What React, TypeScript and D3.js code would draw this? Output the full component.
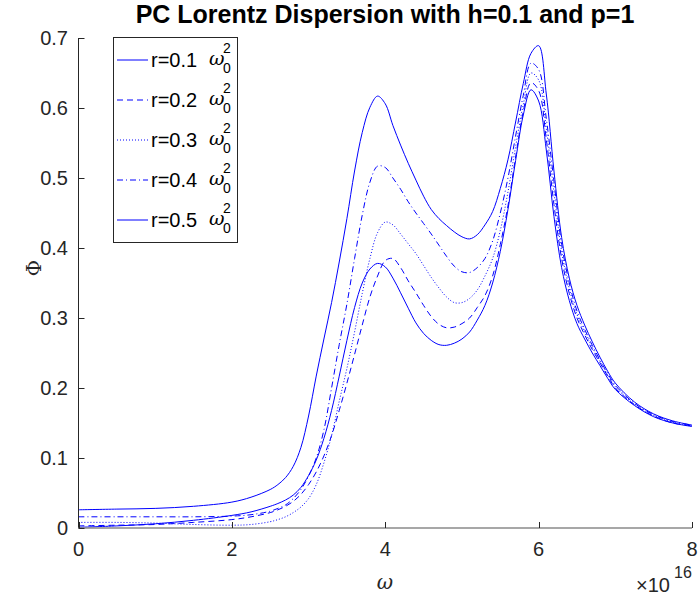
import React from "react";
import * as d3 from "d3";

// omega in units of 1e16
const omega = [0, 0.5, 1, 1.5, 2, 2.25, 2.5, 2.6, 2.7, 2.8, 2.9, 3, 3.1, 3.2, 3.3, 3.4, 3.5, 3.6, 3.7, 3.8, 3.9, 4, 4.1, 4.2, 4.3, 4.4, 4.5, 4.6, 4.7, 4.8, 4.9, 5, 5.1, 5.2, 5.3, 5.4, 5.5, 5.6, 5.7, 5.8, 5.9, 6, 6.1, 6.2, 6.3, 6.4, 6.5, 6.6, 6.7, 6.8, 6.9, 7, 7.25, 7.5, 7.75, 8];

const phiR01 = [0.001, 0.003, 0.006, 0.011, 0.018, 0.023, 0.031, 0.035, 0.04, 0.047, 0.058, 0.075, 0.097, 0.128, 0.168, 0.217, 0.268, 0.315, 0.35, 0.37, 0.378, 0.373, 0.357, 0.336, 0.314, 0.293, 0.278, 0.268, 0.262, 0.261, 0.264, 0.27, 0.28, 0.297, 0.318, 0.35, 0.395, 0.455, 0.525, 0.59, 0.626, 0.61, 0.54, 0.445, 0.372, 0.325, 0.292, 0.27, 0.25, 0.232, 0.214, 0.198, 0.175, 0.159, 0.15, 0.145];

const phiR02 = [0.003, 0.004, 0.005, 0.008, 0.012, 0.016, 0.022, 0.026, 0.031, 0.038, 0.048, 0.062, 0.08, 0.103, 0.132, 0.168, 0.207, 0.248, 0.29, 0.33, 0.36, 0.382, 0.385, 0.372, 0.353, 0.336, 0.318, 0.302, 0.291, 0.286, 0.287, 0.292, 0.3, 0.315, 0.332, 0.36, 0.405, 0.46, 0.53, 0.595, 0.636, 0.625, 0.555, 0.462, 0.385, 0.335, 0.3, 0.276, 0.255, 0.236, 0.217, 0.2, 0.176, 0.16, 0.15, 0.146];

const phiR03 = [0.008, 0.008, 0.007, 0.005, 0.004, 0.005, 0.009, 0.012, 0.016, 0.022, 0.03, 0.042, 0.062, 0.093, 0.132, 0.181, 0.228, 0.28, 0.335, 0.385, 0.422, 0.437, 0.433, 0.42, 0.406, 0.392, 0.375, 0.358, 0.343, 0.33, 0.322, 0.322, 0.328, 0.34, 0.36, 0.385, 0.425, 0.48, 0.545, 0.605, 0.65, 0.64, 0.57, 0.48, 0.395, 0.342, 0.305, 0.28, 0.258, 0.238, 0.219, 0.202, 0.177, 0.161, 0.151, 0.146];

const phiR04 = [0.016, 0.016, 0.016, 0.016, 0.017, 0.019, 0.024, 0.028, 0.033, 0.042, 0.055, 0.074, 0.1, 0.14, 0.2, 0.262, 0.32, 0.385, 0.447, 0.494, 0.517, 0.515, 0.5, 0.484, 0.466, 0.45, 0.435, 0.42, 0.404, 0.388, 0.374, 0.366, 0.365, 0.372, 0.385, 0.41, 0.45, 0.5, 0.56, 0.618, 0.664, 0.655, 0.585, 0.495, 0.405, 0.35, 0.31, 0.284, 0.261, 0.24, 0.221, 0.204, 0.178, 0.162, 0.152, 0.147];

const phiR05 = [0.026, 0.027, 0.028, 0.031, 0.037, 0.044, 0.055, 0.062, 0.072, 0.088, 0.115, 0.16, 0.217, 0.27, 0.322, 0.38, 0.442, 0.51, 0.565, 0.601, 0.617, 0.606, 0.575, 0.547, 0.521, 0.497, 0.474, 0.455, 0.442, 0.432, 0.423, 0.416, 0.413, 0.419, 0.433, 0.452, 0.485, 0.526, 0.58, 0.635, 0.678, 0.689, 0.62, 0.51, 0.415, 0.357, 0.318, 0.29, 0.266, 0.244, 0.224, 0.207, 0.18, 0.163, 0.153, 0.147];

const seriesLabels = ["r=0.1", "r=0.2", "r=0.3", "r=0.4", "r=0.5"];
const xTicks = [0, 2, 4, 6, 8];
const yTicks = [0, 0.1, 0.2, 0.3, 0.4, 0.5, 0.6, 0.7];

const series = [phiR01, phiR02, phiR03, phiR04, phiR05];
const dashes = [undefined, "6,4", "1,2", "6,3,1,3", undefined];

export default function App() {
  const W = 699;
  const H = 595;
  const x = d3.scaleLinear().domain([0, 8]).range([78.5, 692]);
  const y = d3.scaleLinear().domain([0, 0.7]).range([528, 38]);
  const line = d3
    .line<number>()
    .x((_, i) => x(omega[i]))
    .y((d) => y(d))
    .curve(d3.curveCatmullRom.alpha(0.5));

  const axisColor = "#262626";
  const font = "'Liberation Sans', Arial, Helvetica, sans-serif";

  const legX = 113.5;
  const legY = 37.5;
  const legW = 124;
  const legH = 205;
  const rowY = (i: number) => 60 + i * 40;

  return (
    <svg
      width={W}
      height={H}
      style={{ position: "absolute", left: 0, top: 0, background: "#fff" }}
      fontFamily={font}
    >
      <rect x={0} y={0} width={W} height={H} fill="#fff" />
      {/* curves */}
      <g>
        {series.map((s, i) => (
          <path
            key={i}
            d={line(s) || ""}
            fill="none"
            stroke="#0000ff"
            strokeWidth={1}
            strokeDasharray={dashes[i]}
          />
        ))}
      </g>
      {/* axes */}
      <line x1={x(0)} x2={x(0)} y1={y(0)} y2={y(0.7)} stroke={axisColor} strokeWidth={1} />
      <line x1={x(0)} x2={x(8)} y1={528} y2={528} stroke="#8a8a8a" strokeWidth={1.4} />
      {yTicks.map((t) => (
        <g key={"y" + t}>
          <line x1={x(0)} x2={x(0) + 6} y1={Math.round(y(t)) + 0.5} y2={Math.round(y(t)) + 0.5} stroke={axisColor} />
          <text
            x={68}
            y={y(t)}
            dy="0.36em"
            textAnchor="end"
            fontSize={20}
            fill={axisColor}
          >
            {t === 0 ? "0" : t.toFixed(1)}
          </text>
        </g>
      ))}
      {xTicks.map((t) => (
        <g key={"x" + t}>
          <line x1={Math.round(x(t)) + 0.5} x2={Math.round(x(t)) + 0.5} y1={528} y2={522} stroke={axisColor} />
          <text x={x(t)} y={556} textAnchor="middle" fontSize={20} fill={axisColor}>
            {t}
          </text>
        </g>
      ))}
      {/* axis labels */}
      <text x={385} y={589} textAnchor="middle" fontSize={20} fontStyle="italic" fontFamily="'DejaVu Serif', serif" fill={axisColor}>
        ω
      </text>
      <text x={636} y={592} fontSize={20} fill={axisColor}>
        ×10
      </text>
      <text x={674} y={578} fontSize={16} fill={axisColor}>
        16
      </text>
      <text
        transform={`translate(41,268) rotate(-90)`}
        textAnchor="middle"
        fontSize={20}
        fontFamily="'DejaVu Serif', serif"
        fill={axisColor}
      >
        Φ
      </text>
      {/* title */}
      <text x={385} y={23} textAnchor="middle" fontSize={25} fontWeight="bold" fill="#000">
        PC Lorentz Dispersion with h=0.1 and p=1
      </text>
      {/* legend */}
      <rect x={legX} y={legY} width={legW} height={legH} fill="#fff" stroke={axisColor} strokeWidth={1} />
      {seriesLabels.map((lab, i) => (
        <g key={lab}>
          <line
            x1={117}
            x2={148}
            y1={rowY(i)}
            y2={rowY(i)}
            stroke="#0000ff"
            strokeWidth={1}
            strokeDasharray={dashes[i]}
          />
          <text x={151} y={rowY(i)} dy="0.36em" fontSize={20} fill="#000">
            {lab}
          </text>
          <text x={209} y={rowY(i)} dy="0.28em" fontSize={19} fontStyle="italic" fontFamily="'DejaVu Serif', serif" fill="#000">
            ω
          </text>
          <text x={223} y={rowY(i) - 7} fontSize={14} fill="#000">
            2
          </text>
          <text x={223} y={rowY(i) + 13} fontSize={14} fill="#000">
            0
          </text>
        </g>
      ))}
    </svg>
  );
}
